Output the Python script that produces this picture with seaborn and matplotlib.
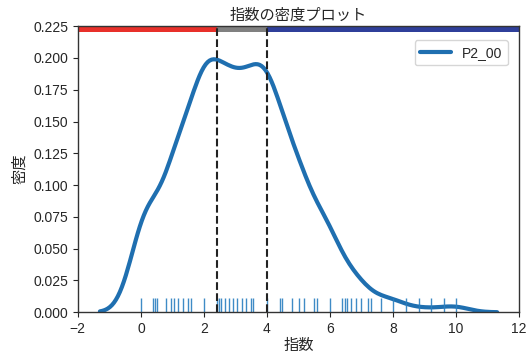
import numpy as np
import pandas as pd
import seaborn as sns
import matplotlib
matplotlib.use("Agg")
import matplotlib.pyplot as plt

# observed values (rug positions) and how many times each occurs
values = [0.0, 0.39, 0.46, 0.52, 0.79, 0.95, 1.06, 1.19, 1.32, 1.48, 1.58, 2.0,
          2.4, 2.49, 2.55, 2.66, 2.78, 2.93, 3.05, 3.20, 3.32, 3.48, 3.57, 4.0,
          4.41, 4.47, 4.79, 5.02, 5.17, 5.49, 5.60, 6.0, 6.39, 6.47, 6.55,
          6.68, 6.81, 6.97, 7.19, 7.31, 7.61, 8.0, 8.40, 8.83, 9.20, 9.60, 9.99]
counts = [47, 33, 6, 1, 1, 23, 32, 26, 13, 14, 32, 118,
          31, 19, 17, 20, 28, 32, 27, 16, 15, 33, 52, 102,
          33, 28, 34, 32, 21, 13, 21, 39, 4, 1, 2,
          6, 9, 5, 1, 1, 5, 6, 1, 2, 1, 1, 4]
series_name = "P2_00"
thresholds = [2.4, 4.0]
band_colors = ["#e8302a", "#808080", "#2f3f9a"]

sns.set_style("ticks")
plt.rcParams['font.family'] = ['Liberation Sans', 'Noto Sans CJK JP', 'DejaVu Sans']

df = pd.DataFrame({series_name: values, "count": counts})

fig, ax = plt.subplots(figsize=(5.26, 3.54), dpi=100)
fig.subplots_adjust(left=0.148, right=0.987, top=0.926, bottom=0.118)

wstd = np.sqrt(np.cov(np.array(values), aweights=np.array(counts)))
bw_factor = 0.45 / wstd

sns.kdeplot(data=df, x=series_name, weights="count", ax=ax, color="#1f6fb0",
            linewidth=3, bw_method=bw_factor, cut=3, clip=(-1.3, 11.3),
            label=series_name)
sns.rugplot(data=df, x=series_name, ax=ax, color="#2a7fc0", height=0.05,
            linewidth=1, alpha=0.9)

ax.set_xlim(-2, 12)
ax.set_ylim(0, 0.225)
ax.set_xticks(np.arange(-2, 13, 2))
ax.set_yticks(np.arange(0, 0.2251, 0.025))
ax.yaxis.set_major_formatter(matplotlib.ticker.FormatStrFormatter('%.3f'))

edges = [-2, thresholds[0], thresholds[1], 12]
for i, c in enumerate(band_colors):
    ax.fill_between([edges[i], edges[i + 1]], 0.2205, 0.225, color=c,
                    linewidth=0, zorder=3)
for t in thresholds:
    ax.axvline(t, color="#222222", linestyle="--", linewidth=1.5, zorder=4)

for side in ["top", "right", "left", "bottom"]:
    ax.spines[side].set_visible(True)
    ax.spines[side].set_color("#333333")
    ax.spines[side].set_linewidth(1.0)
    ax.spines[side].set_zorder(5)

ax.set_title("指数の密度プロット", fontsize=11, pad=5)
ax.set_xlabel("指数", fontsize=11, labelpad=2)
ax.set_ylabel("密度", fontsize=11, labelpad=4)
ax.tick_params(labelsize=10)
ax.legend(loc="upper right", bbox_to_anchor=(0.99, 0.975), fontsize=10,
          handlelength=2.2)

fig.savefig("out.png", dpi=100)
